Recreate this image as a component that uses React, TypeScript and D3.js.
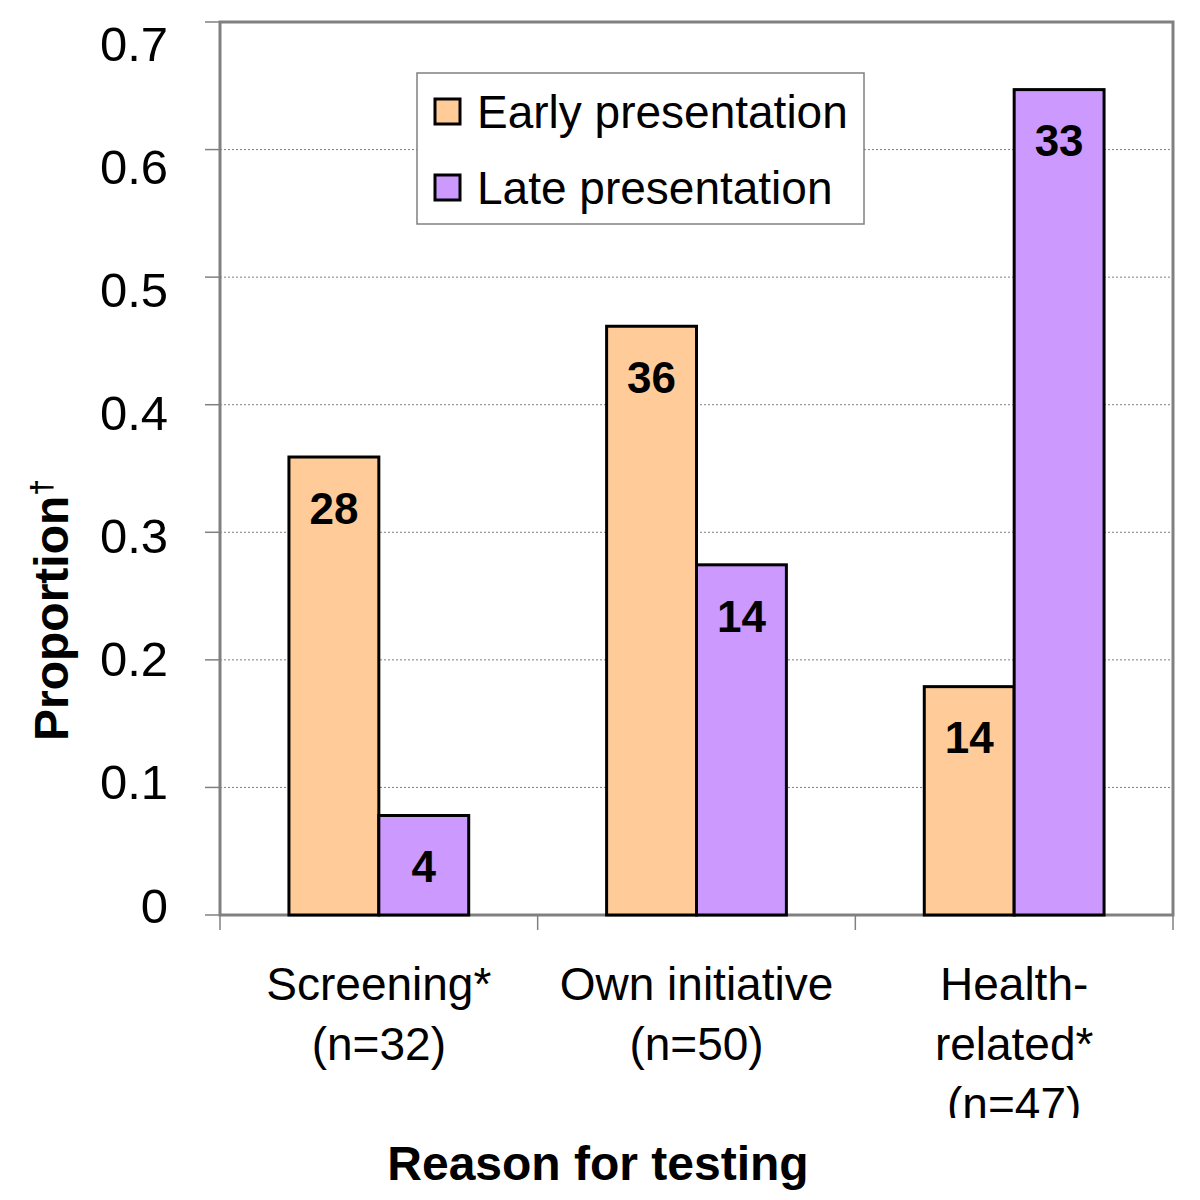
import { useEffect, useRef } from 'react'
import * as d3 from 'd3'

const categories = ['Screening', 'Own initiative', 'Health-related']
const categoryLabels = [['Screening*', '(n=32)'], ['Own initiative', '(n=50)'], ['Health-', 'related*', '(n=47)']]
const seriesNames = ['Early presentation', 'Late presentation']
const seriesColors = ['#FFCC99', '#CC99FF']
const earlyCounts = [28, 36, 14]
const lateCounts = [4, 14, 33]
const earlyValues = [0.359, 0.4615, 0.179]
const lateValues = [0.078, 0.2745, 0.647]
const yTicks = [0, 0.1, 0.2, 0.3, 0.4, 0.5, 0.6, 0.7]

const font = '"Liberation Sans", Arial, sans-serif'

export default function App() {
  const svgRef = useRef<SVGSVGElement>(null)

  useEffect(() => {
    if (!svgRef.current) return
    const svg = d3.select(svgRef.current)
    svg.selectAll('*').remove()

    const left = 220, right = 1173, top = 22, bottom = 915

    const x = d3.scaleBand<string>().domain(categories).range([left, right]).padding(0)
    const xs = d3.scaleBand<string>().domain(seriesNames).range([0, x.bandwidth()]).paddingInner(0).paddingOuter(0.767)
    const y = d3.scaleLinear().domain([0, 0.7]).range([bottom, top])
    // tick labels in the original sit on a slightly tighter spacing than the ticks
    const yLab = d3.scaleLinear().domain([0, 0.7]).range([905, 43])

    // gridlines
    svg.append('g').selectAll('line')
      .data(yTicks.filter(t => t > 0 && t < 0.7))
      .enter().append('line')
      .attr('x1', left).attr('x2', right)
      .attr('y1', d => y(d)).attr('y2', d => y(d))
      .attr('stroke', '#808080').attr('stroke-width', 1).attr('stroke-dasharray', '2,2')

    // y ticks + labels
    const yg = svg.append('g')
    yg.selectAll('line').data(yTicks).enter().append('line')
      .attr('x1', 205).attr('x2', left).attr('y1', d => y(d)).attr('y2', d => y(d))
      .attr('stroke', '#808080').attr('stroke-width', 1.5)
    yg.selectAll('text').data(yTicks).enter().append('text')
      .attr('x', 168).attr('y', d => yLab(d)).attr('dy', '0.36em')
      .attr('text-anchor', 'end')
      .style('font-family', font).style('font-size', '49px').attr('fill', '#000')
      .text(d => d === 0 ? '0' : d3.format('.1f')(d))

    // x ticks
    const xTickPos = [left, ...categories.map(c => (x(c) as number) + x.bandwidth())]
    svg.append('g').selectAll('line').data(xTickPos).enter().append('line')
      .attr('x1', d => d).attr('x2', d => d).attr('y1', bottom).attr('y2', 930)
      .attr('stroke', '#808080').attr('stroke-width', 1.5)

    // plot frame
    svg.append('rect')
      .attr('x', left).attr('y', top).attr('width', right - left).attr('height', bottom - top)
      .attr('fill', 'none').attr('stroke', '#808080').attr('stroke-width', 3)

    // bars
    const rows = categories.map((c, i) => ({
      cat: c,
      vals: [
        { s: seriesNames[0], v: earlyValues[i], n: earlyCounts[i], color: seriesColors[0] },
        { s: seriesNames[1], v: lateValues[i], n: lateCounts[i], color: seriesColors[1] },
      ],
    }))
    const groups = svg.append('g').selectAll('g').data(rows).enter().append('g')
      .attr('transform', d => `translate(${x(d.cat)},0)`)
    groups.selectAll('rect').data(d => d.vals).enter().append('rect')
      .attr('x', d => xs(d.s) as number).attr('width', xs.bandwidth())
      .attr('y', d => y(d.v)).attr('height', d => bottom - y(d.v))
      .attr('fill', d => d.color).attr('stroke', '#000').attr('stroke-width', 3)
    groups.selectAll('text').data(d => d.vals).enter().append('text')
      .attr('x', d => (xs(d.s) as number) + xs.bandwidth() / 2)
      .attr('y', d => y(d.v) + 51).attr('dy', '0.36em')
      .attr('text-anchor', 'middle')
      .style('font-family', font).style('font-size', '44px').style('font-weight', 'bold')
      .text(d => d.n)

    // category labels, clipped at bottom as in original
    svg.append('clipPath').attr('id', 'labclip').append('rect')
      .attr('x', 0).attr('y', 930).attr('width', 1200).attr('height', 188)
    const cl = svg.append('g').attr('clip-path', 'url(#labclip)')
    categories.forEach((c, i) => {
      const cx = (x(c) as number) + x.bandwidth() / 2
      cl.append('g').selectAll('text').data(categoryLabels[i]).enter().append('text')
        .attr('x', cx).attr('y', (_d, j) => 983 + j * 60).attr('dy', '0.36em')
        .attr('text-anchor', 'middle')
        .style('font-family', font).style('font-size', '46px')
        .text(d => d)
    })

    // axis titles
    svg.append('text')
      .attr('x', 598).attr('y', 1163).attr('dy', '0.36em').attr('text-anchor', 'middle')
      .style('font-family', font).style('font-size', '48px').style('font-weight', 'bold')
      .text('Reason for testing')
    const yt = svg.append('text')
      .attr('transform', 'translate(68,610) rotate(-90)').attr('text-anchor', 'middle')
      .style('font-family', font).style('font-size', '48px').style('font-weight', 'bold')
    yt.append('tspan').text('Proportion')
    yt.append('tspan').attr('dy', '-0.55em').style('font-size', '30px').text('†')

    // legend
    const lg = svg.append('g')
    lg.append('rect').attr('x', 417).attr('y', 73).attr('width', 447).attr('height', 151)
      .attr('fill', '#fff').attr('stroke', '#808080').attr('stroke-width', 1.5)
    const items = lg.selectAll('g.item').data(seriesNames).enter().append('g')
      .attr('transform', (_d, i) => `translate(0,${111 + i * 76})`)
    items.append('rect').attr('x', 435).attr('y', -12).attr('width', 25).attr('height', 25)
      .attr('fill', (_d, i) => seriesColors[i]).attr('stroke', '#000').attr('stroke-width', 3)
    items.append('text').attr('x', 477).attr('dy', '0.36em')
      .style('font-family', font).style('font-size', '46px')
      .text(d => d)
  }, [])

  return (
    <svg ref={svgRef} width={1200} height={1200}
      style={{ position: 'absolute', left: 0, top: 0, background: '#fff' }} />
  )
}
